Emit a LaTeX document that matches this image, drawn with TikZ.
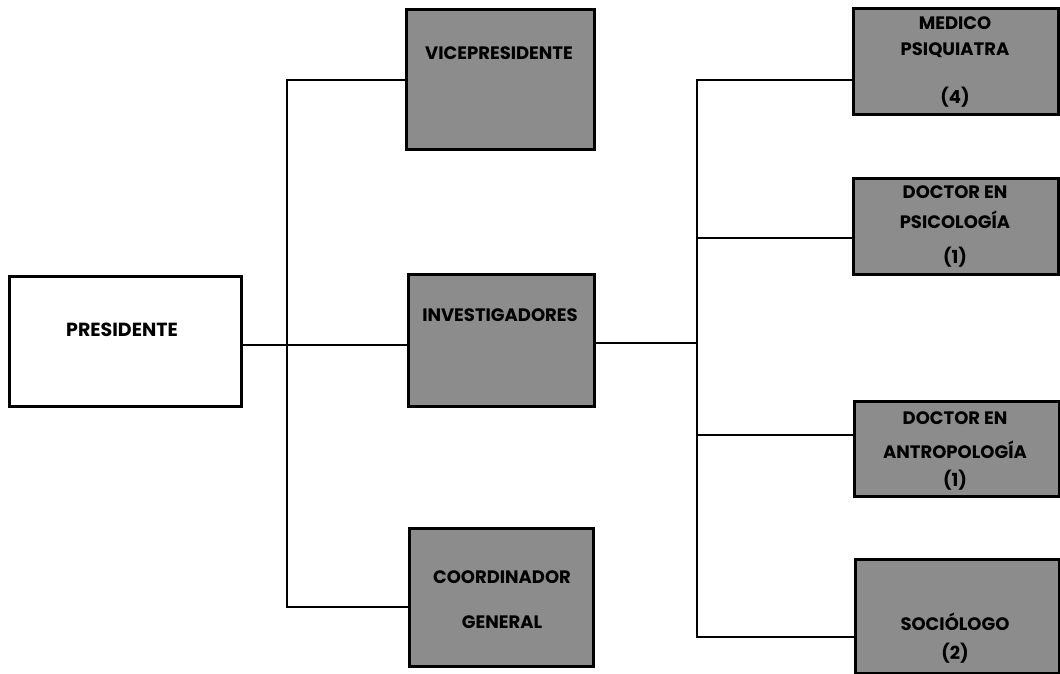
\documentclass[tikz,border=0pt]{standalone}
\usepackage{fontspec}
\setmainfont{Poppins}
\begin{document}
\begin{tikzpicture}[x=1pt,y=-1pt,
  box/.style={draw=black,line width=3pt,fill=#1,rectangle,anchor=north west,inner sep=0pt},
  box/.default={black!45},
  lbl/.style={font=\fontsize{18}{21}\selectfont\bfseries,text=black,inner sep=0pt},
  conn/.style={line width=2.6pt,draw=black}]
\useasboundingbox (0,0) rectangle (1060,673);
% boxes
\node[box=white,minimum width=232pt,minimum height=130pt] (pres) at (8,275) {};
\node[box,minimum width=188pt,minimum height=140pt] (vice) at (405,8) {};
\node[box,minimum width=186pt,minimum height=132pt] (inv) at (407,273) {};
\node[box,minimum width=184pt,minimum height=138pt] (coord) at (408,527) {};
\node[box,minimum width=205pt,minimum height=106pt] (med) at (852,7) {};
\node[box,minimum width=205pt,minimum height=96pt] (psi) at (852,177) {};
\node[box,minimum width=205pt,minimum height=95pt] (ant) at (853,400) {};
\node[box,minimum width=204pt,minimum height=114pt] (soc) at (854,558) {};
% labels
\node[lbl,font=\fontsize{19}{22}\selectfont\bfseries] (tpres) at (122,330) {PRESIDENTE};
\node[lbl] (tvice) at (499,53) {VICEPRESIDENTE};
\node[lbl] (tinv) at (500,315) {INVESTIGADORES};
\node[lbl] (tcoa) at (502,577) {COORDINADOR};
\node[lbl] (tcob) at (502,622) {GENERAL};
\node[lbl] (tmea) at (955,23) {MEDICO};
\node[lbl] (tmeb) at (955,50) {PSIQUIATRA};
\node[lbl] (tmec) at (955,97) {(4)};
\node[lbl] (tpsa) at (955,192) {DOCTOR EN};
\node[lbl] (tpsb) at (955,220) {PSICOLOGÍA};
\node[lbl] (tpsc) at (955,257) {(1)};
\node[lbl] (tana) at (955,418) {DOCTOR EN};
\node[lbl] (tanb) at (955,450) {ANTROPOLOGÍA};
\node[lbl] (tanc) at (955,480) {(1)};
\node[lbl] (tsoa) at (955,622) {SOCIÓLOGO};
\node[lbl] (tsob) at (955,653) {(2)};
% trunk coordinates
\coordinate (lt) at (287,80);
\coordinate (lb) at (287,607);
\coordinate (rt) at (697,80);
\coordinate (rb) at (697,637);
% connectors
\draw[conn] (pres.east |- 0,345) -- (inv.west |- 0,345);
\draw[conn] (vice.west |- 0,80) -| (lt) -- (lb) -- (coord.west |- 0,607);
\draw[conn] (inv.east |- 0,343) -- (rt |- 0,343);
\draw[conn] (med.west |- 0,80) -- (rt) -- (rb) -- (soc.west |- 0,637);
\draw[conn] (psi.west |- 0,238) -- (rt |- 0,238);
\draw[conn] (ant.west |- 0,435) -- (rt |- 0,435);
\end{tikzpicture}
\end{document}
